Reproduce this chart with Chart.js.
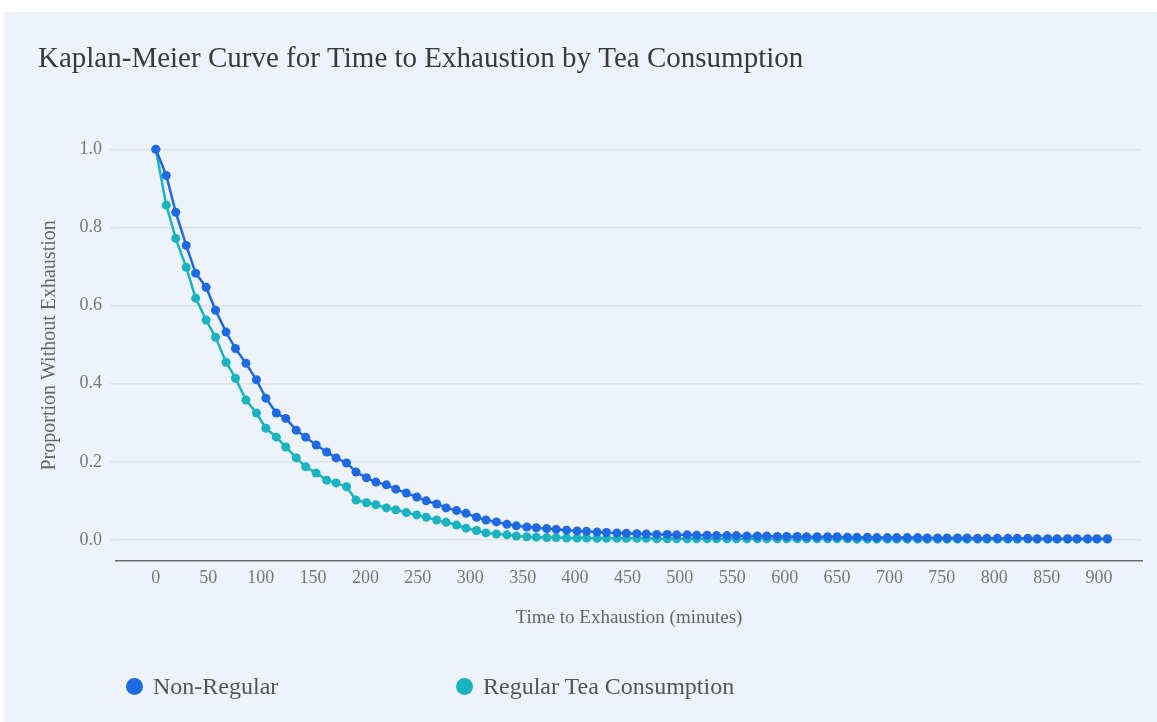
<!DOCTYPE html>
<html>
<head>
<meta charset="utf-8">
<script src="https://cdn.jsdelivr.net/npm/chart.js@4.4.0/dist/chart.umd.min.js"></script>
<style>
  html, body { margin: 0; padding: 0; background: #fff; }
  #panel { position: absolute; left: 4px; top: 12px; right: 0; bottom: 0; background: #eef2fa; }
  #wrap { position: absolute; left: 0; top: 0; width: 1157px; height: 722px; }
  #legend { position: absolute; left: 0; top: 671px; width: 1157px; height: 30px;
            font-family: 'Liberation Serif', serif; font-size: 24px; color: #555; }
  .item { position: absolute; top: 0; height: 30px; display: flex; align-items: center; }
  .dot { width: 17px; height: 17px; border-radius: 50%; margin-right: 10px; }
</style>
</head>
<body>
<div id="panel"></div>
<div id="wrap"><canvas id="kmChart" width="1157" height="722"></canvas></div>
<div id="legend"></div>
<script>
// time points (minutes)
var times = [0,10,19,29,38,48,57,67,76,86,
  96,105,115,124,134,143,153,163,172,182,
  191,201,210,220,229,239,249,258,268,277,
  287,296,306,315,325,335,344,354,363,373,
  382,392,402,411,421,430,440,449,459,468,
  478,488,497,507,516,526,535,545,554,564,
  574,583,593,602,612,621,631,641,650,660,
  669,679,688,698,707,717,727,736,746,755,
  765,774,784,793,803,813,822,832,841,851,
  860,870,879,889,898,908];

var nonRegular = [1.000,0.933,0.839,0.754,0.683,0.647,0.588,0.532,0.490,0.452,
  0.410,0.363,0.325,0.311,0.281,0.263,0.243,0.225,0.210,0.197,
  0.174,0.159,0.148,0.141,0.130,0.120,0.110,0.100,0.092,0.082,
  0.075,0.068,0.058,0.051,0.046,0.040,0.036,0.033,0.031,0.029,
  0.027,0.025,0.023,0.022,0.020,0.019,0.018,0.017,0.016,0.015,
  0.014,0.014,0.013,0.013,0.012,0.012,0.011,0.011,0.011,0.010,
  0.010,0.010,0.009,0.009,0.009,0.008,0.008,0.008,0.008,0.007,
  0.007,0.007,0.006,0.006,0.006,0.006,0.006,0.005,0.005,0.005,
  0.005,0.005,0.004,0.004,0.004,0.004,0.004,0.004,0.003,0.003,
  0.003,0.003,0.003,0.003,0.003,0.003];

var regularTea = [1.000,0.857,0.772,0.698,0.619,0.563,0.519,0.455,0.414,0.358,
  0.325,0.286,0.263,0.238,0.210,0.187,0.171,0.153,0.146,0.136,
  0.102,0.095,0.090,0.082,0.077,0.070,0.064,0.058,0.051,0.045,
  0.038,0.030,0.024,0.018,0.015,0.013,0.010,0.008,0.007,0.006,
  0.006,0.005,0.005,0.005,0.004,0.004,0.004,0.004,0.004,0.004,
  0.003,0.003,0.003,0.003,0.003,0.003,0.003,0.003,0.003,0.003,
  0.003,0.003,0.003,0.003,0.003,0.003,0.003,0.003,0.003,0.003,
  0.002,0.002,0.002,0.002,0.002,0.002,0.002,0.002,0.002,0.002,
  0.002,0.002,0.002,0.002,0.002,0.002,0.002,0.002,0.002,0.002,
  0.002,0.002,0.002,0.002,0.002,0.002];

var seriesNames = ['Non-Regular', 'Regular Tea Consumption'];
var seriesColors = ['#1f6ae3', '#1ab4c0'];
var xTicks = [0,50,100,150,200,250,300,350,400,450,500,550,600,650,700,750,800,850,900];
var yTicks = [0, 0.2, 0.4, 0.6, 0.8, 1.0];

function toPoints(xs, ys) {
  return xs.map(function (x, i) { return { x: x, y: ys[i] }; });
}

var serif = "'Liberation Serif', serif";
var ctx = document.getElementById('kmChart').getContext('2d');
var kmChart = new Chart(ctx, {
  type: 'line',
  data: {
    datasets: [{
      label: seriesNames[0],
      data: toPoints(times, nonRegular),
      borderColor: seriesColors[0],
      backgroundColor: seriesColors[0],
      borderWidth: 2.5,
      pointRadius: 4.5,
      pointBorderWidth: 0,
      tension: 0
    }, {
      label: seriesNames[1],
      data: toPoints(times, regularTea),
      borderColor: seriesColors[1],
      backgroundColor: seriesColors[1],
      borderWidth: 2.5,
      pointRadius: 4.5,
      pointBorderWidth: 0,
      tension: 0
    }]
  },
  options: {
    responsive: false,
    animation: false,
    layout: { padding: { left: 38, right: 15, top: 0, bottom: 87 } },
    plugins: {
      legend: { display: false },
      tooltip: { enabled: false },
      title: {
        display: true,
        text: 'Kaplan-Meier Curve for Time to Exhaustion by Tea Consumption',
        align: 'start',
        color: '#3a3a3a',
        font: { family: serif, size: 29, weight: 'normal' },
        padding: { top: 42, bottom: 53 }
      }
    },
    scales: {
      x: {
        type: 'linear',
        min: -38,
        max: 941,
        afterBuildTicks: function (scale) {
          scale.ticks = xTicks.map(function (v) { return { value: v }; });
        },
        afterFit: function (scale) { scale.height = 74; },
        grid: { display: false, drawTicks: false },
        border: { display: true, color: '#6b6b6b', width: 1.5 },
        ticks: {
          color: '#777',
          padding: 6,
          maxRotation: 0,
          font: { family: serif, size: 18 }
        },
        title: {
          display: true,
          text: 'Time to Exhaustion (minutes)',
          color: '#666',
          font: { family: serif, size: 19 },
          padding: { top: 0, bottom: 6 }
        }
      },
      y: {
        min: -0.054,
        max: 1.05,
        afterBuildTicks: function (scale) {
          scale.ticks = yTicks.map(function (v) { return { value: v }; });
        },
        afterFit: function (scale) { scale.width = 78; },
        grid: { color: '#dde1e8', lineWidth: 1.5, drawTicks: true, tickLength: 6, tickColor: '#dde1e8' },
        border: { display: false },
        ticks: {
          color: '#777',
          padding: 8,
          font: { family: serif, size: 18 },
          callback: function (v) { return v.toFixed(1); }
        },
        title: {
          display: true,
          text: 'Proportion Without Exhaustion',
          color: '#666',
          font: { family: serif, size: 20 },
          padding: { top: 0, bottom: 0 }
        }
      }
    }
  }
});

// html legend built from the chart datasets
var legendLeft = [126, 456];
var legendEl = document.getElementById('legend');
kmChart.data.datasets.forEach(function (ds, i) {
  var item = document.createElement('div');
  item.className = 'item';
  item.style.left = legendLeft[i] + 'px';
  var dot = document.createElement('span');
  dot.className = 'dot';
  dot.style.background = ds.borderColor;
  var txt = document.createElement('span');
  txt.textContent = ds.label;
  item.appendChild(dot);
  item.appendChild(txt);
  legendEl.appendChild(item);
});
</script>
</body>
</html>
